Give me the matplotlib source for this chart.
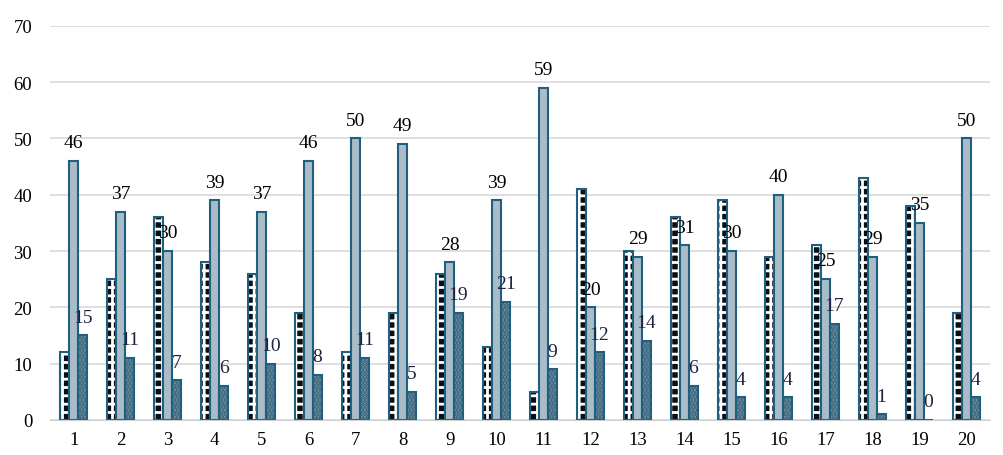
import numpy as np
import matplotlib.pyplot as plt

groups = [str(i) for i in range(1, 21)]
serie_a = [12, 25, 36, 28, 26, 19, 12, 19, 26, 13, 5, 41, 30, 36, 39, 29, 31, 43, 38, 19]
serie_b = [46, 37, 30, 39, 37, 46, 50, 49, 28, 39, 59, 20, 29, 31, 30, 40, 25, 29, 35, 50]
serie_c = [15, 11, 7, 6, 10, 8, 11, 5, 19, 21, 9, 12, 14, 6, 4, 4, 17, 1, 0, 4]

plt.rcParams['font.family'] = ['Liberation Serif', 'DejaVu Serif']
plt.rcParams['hatch.linewidth'] = 2.0

borda = '#1f5f7f'
x = np.arange(len(groups))
w = 0.19

fig = plt.figure(figsize=(10.04, 4.56), dpi=100)
ax = fig.add_axes([0.05, 0.077, 0.936, 0.864])

# serie A: xadrez preto e branco
ax.bar(x - w, serie_a, w, color='#0b0f14', edgecolor='white', hatch='++', linewidth=0)
ax.bar(x - w, serie_a, w, fill=False, edgecolor=borda, linewidth=1.5)

# serie B: cinza azulado
ax.bar(x, serie_b, w, color='#a9bcc8', edgecolor=borda, linewidth=1.5)

# serie C: pontilhado
ax.bar(x + w, serie_c, w, color='#7f9aab', edgecolor='#2f5d75', hatch='.....', linewidth=0)
ax.bar(x + w, serie_c, w, fill=False, edgecolor=borda, linewidth=1.5)

for xi, v in zip(x, serie_b):
    ax.annotate(str(v), (xi, v), xytext=(0, 7), textcoords='offset points',
                ha='center', va='bottom', fontsize=14, color='black')
for xi, v in zip(x, serie_c):
    ax.annotate(str(v), (xi + w, v), xytext=(0, 7), textcoords='offset points',
                ha='center', va='bottom', fontsize=14, color='#1c2240')

ax.set_xlim(-0.5, 19.5)
ax.set_ylim(0, 70)
ax.set_yticks(range(0, 71, 10))
ax.set_xticks(x)
ax.set_xticklabels(groups)
ax.yaxis.grid(True, color='#d9d9d9', linewidth=1.2)
ax.set_axisbelow(True)
for s in ['top', 'right', 'left']:
    ax.spines[s].set_visible(False)
ax.spines['bottom'].set_color('#d0d0d0')
ax.tick_params(axis='both', length=0, labelsize=13.5)
ax.tick_params(axis='x', pad=8)
ax.tick_params(axis='y', pad=13)

fig.savefig('out.png', dpi=100)
